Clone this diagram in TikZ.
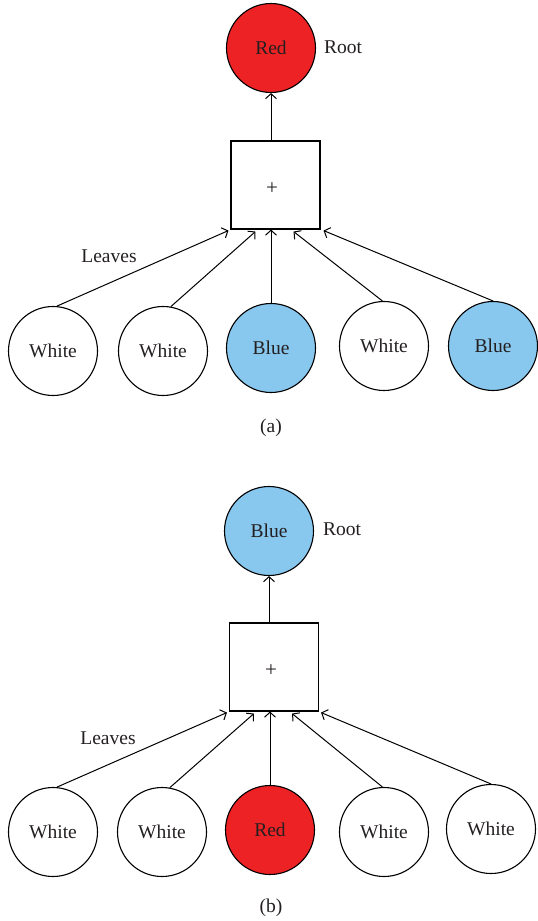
\documentclass[tikz,border=0pt]{standalone}
\usepackage{fontspec}
\setmainfont{Liberation Serif}
\usetikzlibrary{arrows.meta}
\definecolor{nodered}{HTML}{ED2224}
\definecolor{nodeblue}{HTML}{88C7EE}
\definecolor{ink}{HTML}{231F20}
\begin{document}
\begin{tikzpicture}[x=1pt,y=-1pt,
  every node/.style={text=ink, font=\fontsize{19.5}{22}\selectfont},
  colnode/.style={circle, draw=black, line width=1.1pt, minimum size=89pt, inner sep=0pt},
  sumbox/.style={draw=black, line width=1.1pt, minimum width=89pt, minimum height=88pt, inner sep=0pt},
  plusmark/.style={font=\fontsize{21}{22}\selectfont},
  link/.style={line width=1pt, -{Straight Barb[length=5pt,width=11pt]}}]
\useasboundingbox (0,0) rectangle (538,921);

% ---- (a) ----
\node[colnode, fill=nodered] (rootA) at (271,48) {Red};
\node (rootlabelA) at (343,47) {Root};
\node[sumbox] (boxA) at (275.5,185) {};
\node[plusmark] (plusA) at (272,189) {+};
\node[colnode] (lA1) at (53,351) {White};
\node[colnode] (lA2) at (163,351) {White};
\node[colnode, fill=nodeblue] (lA3) at (271,348) {Blue};
\node[colnode] (lA4) at (384,346) {White};
\node[colnode, fill=nodeblue] (lA5) at (493,346) {Blue};
\node (leavesA) at (109,256) {Leaves};
\node (capA) at (271,428) {(a)};

\draw[link] (rootA |- boxA.north) -- (rootA.south);
\draw[link] (lA1.85) -- ([xshift=-2pt,yshift=-1pt]boxA.south west);
\draw[link] (lA2.80) -- ([xshift=25pt,yshift=-2pt]boxA.south west);
\draw[link] (lA3.north) -- (lA3 |- boxA.south);
\draw[link] (lA4.92) -- ([xshift=-27pt,yshift=-2pt]boxA.south east);
\draw[link] (lA5.north) -- ([xshift=3pt,yshift=-1pt]boxA.south east);

% ---- (b) ----
\node[colnode, fill=nodeblue] (rootB) at (269,531) {Blue};
\node (rootlabelB) at (342,529) {Root};
\node[sumbox] (boxB) at (274,667) {};
\node[plusmark] (plusB) at (271,671) {+};
\node[colnode] (lB1) at (53,832) {White};
\node[colnode] (lB2) at (162,832) {White};
\node[colnode, fill=nodered] (lB3) at (270,830) {Red};
\node[colnode] (lB4) at (384,832) {White};
\node[colnode] (lB5) at (491,829) {White};
\node (leavesB) at (108,738) {Leaves};
\node (capB) at (271,908) {(b)};

\draw[link] (rootB |- boxB.north) -- (rootB.south);
\draw[link] (lB1.85) -- ([xshift=-2pt,yshift=-1pt]boxB.south west);
\draw[link] (lB2.80) -- ([xshift=25pt,yshift=-2pt]boxB.south west);
\draw[link] (lB3.north) -- (lB3 |- boxB.south);
\draw[link] (lB4.92) -- ([xshift=-27pt,yshift=-2pt]boxB.south east);
\draw[link] (lB5.north) -- ([xshift=2pt,yshift=-1pt]boxB.south east);
\end{tikzpicture}
\end{document}
